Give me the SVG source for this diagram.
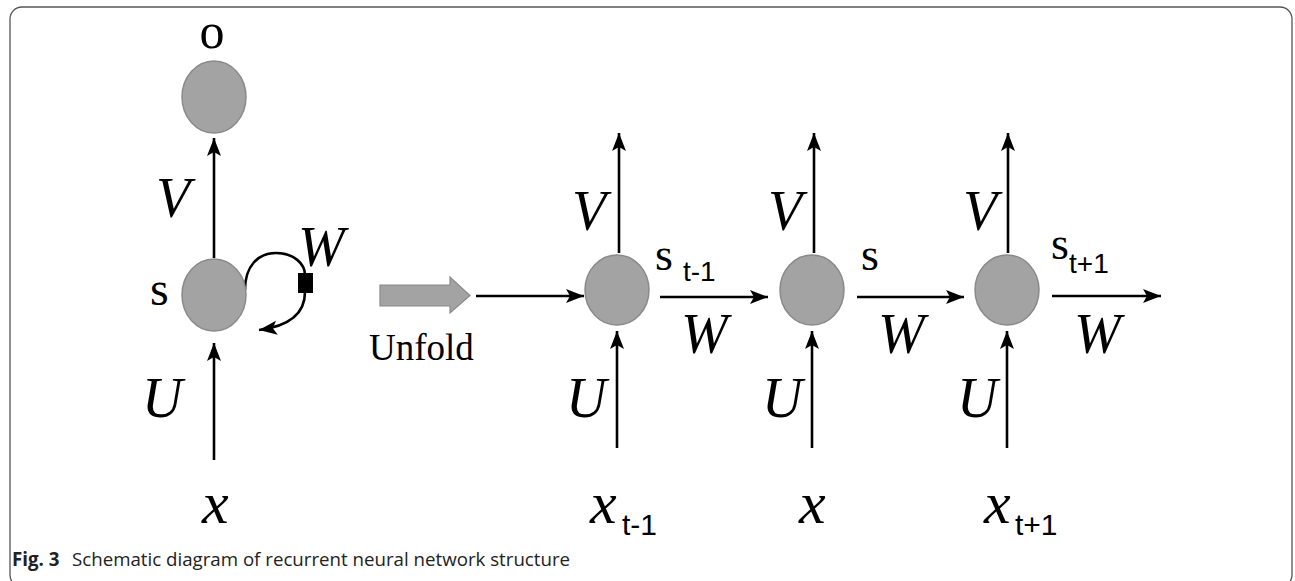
<svg xmlns="http://www.w3.org/2000/svg" width="1295" height="581" viewBox="0 0 1295 581">
<style>
.node{fill:#a3a3a3;stroke:#8a8a8a;stroke-width:1.5}
.ln{stroke:#000;stroke-width:2.6;fill:none}
.it{font-family:"Liberation Serif",serif;font-style:italic;fill:#000}
.rm{font-family:"Liberation Serif",serif;fill:#000}
.sub{font-family:"Liberation Sans",sans-serif;fill:#000}
.cap{font-family:"Open Sans",sans-serif;font-size:18.7px;fill:#222}
</style>
<defs>
<marker id="ah" markerUnits="userSpaceOnUse" markerWidth="20" markerHeight="16" refX="18" refY="7" orient="auto">
<path d="M0,0 L18,7 L0,14 L4,7 Z" fill="#000"/>
</marker>
</defs>
<rect x="10" y="7" width="1282" height="580" rx="12" fill="none" stroke="#555" stroke-width="1.3"/>

<g id="connectors">
<line class="ln" x1="214" y1="258" x2="214" y2="138" marker-end="url(#ah)"/>
<line class="ln" x1="214" y1="460" x2="214" y2="343" marker-end="url(#ah)"/>
<path class="ln" d="M245,290 C245,266 258,253 276,253 C294,253 305,264 305,275"/>
<path class="ln" d="M305,292 C305,313 290,326 259,330" marker-end="url(#ah)"/>
<line class="ln" x1="476" y1="296" x2="584" y2="296" marker-end="url(#ah)"/>
<line class="ln" x1="619" y1="253" x2="619" y2="133" marker-end="url(#ah)"/>
<line class="ln" x1="814" y1="253" x2="814" y2="133" marker-end="url(#ah)"/>
<line class="ln" x1="1008" y1="253" x2="1008" y2="133" marker-end="url(#ah)"/>
<line class="ln" x1="617" y1="448" x2="617" y2="331" marker-end="url(#ah)"/>
<line class="ln" x1="812" y1="448" x2="812" y2="331" marker-end="url(#ah)"/>
<line class="ln" x1="1007" y1="448" x2="1007" y2="331" marker-end="url(#ah)"/>
<line class="ln" x1="660" y1="297" x2="768" y2="297" marker-end="url(#ah)"/>
<line class="ln" x1="857" y1="297" x2="964" y2="297" marker-end="url(#ah)"/>
<line class="ln" x1="1052" y1="296" x2="1161" y2="296" marker-end="url(#ah)"/>
</g>

<g id="node-o">
<ellipse class="node" cx="214" cy="97" rx="32" ry="36"/>
<text class="rm" x="212" y="48" font-size="50" text-anchor="middle">o</text>
</g>
<g id="node-s">
<ellipse class="node" cx="214" cy="295" rx="32" ry="36"/>
<text class="rm" x="150" y="305" font-size="48">s</text>
<rect x="298" y="273" width="15" height="20" fill="#000"/>
</g>
<g id="labels-left">
<text class="it" x="156" y="217" font-size="56">V</text>
<text class="it" x="298" y="266" font-size="56">W</text>
<text class="it" x="142" y="417" font-size="56">U</text>
<text class="it" x="202" y="523" font-size="60">x</text>
</g>

<g id="unfold">
<path d="M380,285 L450,285 L450,277 L470,295.5 L450,313 L450,306 L380,306 Z" fill="#a3a3a3" stroke="#8a8a8a" stroke-width="1.2"/>
<text class="rm" x="369" y="360" font-size="37">Unfold</text>
</g>

<g id="node-st-1">
<ellipse class="node" cx="617" cy="290" rx="32" ry="35"/>
<text class="it" x="572" y="230" font-size="56">V</text>
<text class="it" x="566" y="417" font-size="56">U</text>
<text class="rm" x="655" y="270" font-size="46">s</text>
<text class="sub" x="683" y="281" font-size="28">t-1</text>
<text class="it" x="681" y="353" font-size="56">W</text>
<text class="it" x="590" y="523" font-size="60">x</text>
<text class="sub" x="622" y="535" font-size="30">t-1</text>
</g>
<g id="node-st">
<ellipse class="node" cx="812" cy="290" rx="32" ry="35"/>
<text class="it" x="768" y="230" font-size="56">V</text>
<text class="it" x="762" y="417" font-size="56">U</text>
<text class="rm" x="861" y="270" font-size="46">s</text>
<text class="it" x="878" y="353" font-size="56">W</text>
<text class="it" x="799" y="523" font-size="60">x</text>
</g>
<g id="node-st+1">
<ellipse class="node" cx="1007" cy="290" rx="32" ry="35"/>
<text class="it" x="963" y="230" font-size="56">V</text>
<text class="it" x="957" y="417" font-size="56">U</text>
<text class="rm" x="1051" y="259" font-size="46">s</text>
<text class="sub" x="1069" y="273" font-size="28">t+1</text>
<text class="it" x="1074" y="353" font-size="56">W</text>
<text class="it" x="984" y="523" font-size="60">x</text>
<text class="sub" x="1015" y="535" font-size="30">t+1</text>
</g>

<text class="cap" x="12" y="566"><tspan font-weight="bold">Fig. 3</tspan><tspan x="72">Schematic diagram of recurrent neural network structure</tspan></text>
</svg>
